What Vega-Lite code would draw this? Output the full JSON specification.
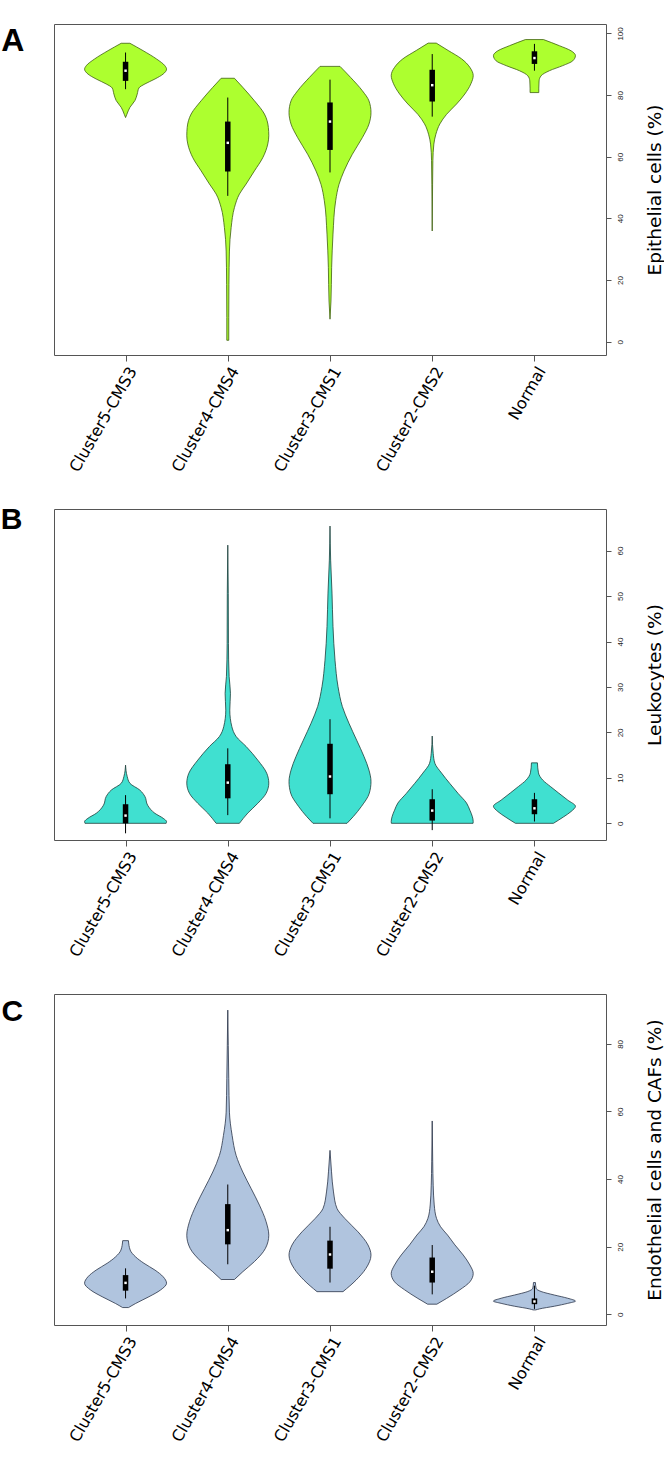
{
  "$schema": "https://vega.github.io/schema/vega-lite/v6.json",
  "padding": {"left": 0, "top": 23, "right": 0, "bottom": 4},
  "bounds": "flush",
  "spacing": 154,
  "config": {"view": {"stroke": "#555", "strokeWidth": 1}, "font": "Liberation Sans"},
  "datasets": {
    "vA": [
      {"cat":"Cluster5-CMS3","v":96.8,"d":0.106},{"cat":"Cluster5-CMS3","v":94.4,"d":0.427},{"cat":"Cluster5-CMS3","v":91.7,"d":0.756},{"cat":"Cluster5-CMS3","v":89.5,"d":0.96},{"cat":"Cluster5-CMS3","v":88.4,"d":1.0},{"cat":"Cluster5-CMS3","v":86.8,"d":0.915},{"cat":"Cluster5-CMS3","v":85.2,"d":0.716},{"cat":"Cluster5-CMS3","v":83.6,"d":0.472},{"cat":"Cluster5-CMS3","v":82.3,"d":0.326},{"cat":"Cluster5-CMS3","v":80.3,"d":0.284},{"cat":"Cluster5-CMS3","v":78.2,"d":0.228},{"cat":"Cluster5-CMS3","v":76.0,"d":0.106},{"cat":"Cluster5-CMS3","v":73.8,"d":0.033},{"cat":"Cluster5-CMS3","v":72.7,"d":0.0},
      {"cat":"Cluster4-CMS4","v":85.45,"d":0.162},{"cat":"Cluster4-CMS4","v":82.5,"d":0.366},{"cat":"Cluster4-CMS4","v":78.15,"d":0.65},{"cat":"Cluster4-CMS4","v":73.85,"d":0.894},{"cat":"Cluster4-CMS4","v":69.5,"d":0.99},{"cat":"Cluster4-CMS4","v":66.8,"d":1.0},{"cat":"Cluster4-CMS4","v":64.15,"d":0.976},{"cat":"Cluster4-CMS4","v":59.7,"d":0.854},{"cat":"Cluster4-CMS4","v":55.4,"d":0.65},{"cat":"Cluster4-CMS4","v":51.15,"d":0.448},{"cat":"Cluster4-CMS4","v":47.9,"d":0.284},{"cat":"Cluster4-CMS4","v":43.5,"d":0.162},{"cat":"Cluster4-CMS4","v":37.0,"d":0.082},{"cat":"Cluster4-CMS4","v":29.4,"d":0.04},{"cat":"Cluster4-CMS4","v":18.6,"d":0.028},{"cat":"Cluster4-CMS4","v":7.8,"d":0.024},{"cat":"Cluster4-CMS4","v":0.45,"d":0.024},
      {"cat":"Cluster3-CMS1","v":89.3,"d":0.244},{"cat":"Cluster3-CMS1","v":85.7,"d":0.504},{"cat":"Cluster3-CMS1","v":81.4,"d":0.789},{"cat":"Cluster3-CMS1","v":78.1,"d":0.951},{"cat":"Cluster3-CMS1","v":74.4,"d":1.0},{"cat":"Cluster3-CMS1","v":70.6,"d":0.951},{"cat":"Cluster3-CMS1","v":66.2,"d":0.789},{"cat":"Cluster3-CMS1","v":60.8,"d":0.545},{"cat":"Cluster3-CMS1","v":55.35,"d":0.341},{"cat":"Cluster3-CMS1","v":51.05,"d":0.22},{"cat":"Cluster3-CMS1","v":45.7,"d":0.138},{"cat":"Cluster3-CMS1","v":34.9,"d":0.073},{"cat":"Cluster3-CMS1","v":24.0,"d":0.04},{"cat":"Cluster3-CMS1","v":13.2,"d":0.024},{"cat":"Cluster3-CMS1","v":7.3,"d":0.0},
      {"cat":"Cluster2-CMS2","v":96.85,"d":0.098},{"cat":"Cluster2-CMS2","v":94.45,"d":0.39},{"cat":"Cluster2-CMS2","v":91.75,"d":0.716},{"cat":"Cluster2-CMS2","v":89.0,"d":0.918},{"cat":"Cluster2-CMS2","v":86.3,"d":1.0},{"cat":"Cluster2-CMS2","v":83.65,"d":0.943},{"cat":"Cluster2-CMS2","v":80.35,"d":0.796},{"cat":"Cluster2-CMS2","v":77.1,"d":0.594},{"cat":"Cluster2-CMS2","v":73.75,"d":0.35},{"cat":"Cluster2-CMS2","v":70.65,"d":0.187},{"cat":"Cluster2-CMS2","v":67.3,"d":0.089},{"cat":"Cluster2-CMS2","v":64.1,"d":0.04},{"cat":"Cluster2-CMS2","v":58.7,"d":0.016},{"cat":"Cluster2-CMS2","v":51.1,"d":0.009},{"cat":"Cluster2-CMS2","v":35.9,"d":0.0},
      {"cat":"Normal","v":98.0,"d":0.22},{"cat":"Normal","v":96.0,"d":0.61},{"cat":"Normal","v":94.35,"d":0.894},{"cat":"Normal","v":92.8,"d":1.0},{"cat":"Normal","v":91.1,"d":0.935},{"cat":"Normal","v":89.55,"d":0.691},{"cat":"Normal","v":87.9,"d":0.366},{"cat":"Normal","v":86.25,"d":0.162},{"cat":"Normal","v":84.6,"d":0.113},{"cat":"Normal","v":82.25,"d":0.106},{"cat":"Normal","v":80.8,"d":0.106}
    ],
    "bA": [
      {"cat":"Cluster5-CMS3","lo":81.9,"q1":84.6,"med":87.9,"q3":90.8,"hi":93.8},
      {"cat":"Cluster4-CMS4","lo":47.3,"q1":55.2,"med":64.5,"q3":71.4,"hi":79.2},
      {"cat":"Cluster3-CMS1","lo":54.9,"q1":62.2,"med":71.4,"q3":77.6,"hi":85.0},
      {"cat":"Cluster2-CMS2","lo":73.0,"q1":77.9,"med":83.2,"q3":88.2,"hi":93.3},
      {"cat":"Normal","lo":87.9,"q1":90.1,"med":92.0,"q3":94.2,"hi":96.6}
    ],
    "vB": [
      {"cat":"Cluster5-CMS3","v":12.8,"d":0.0},{"cat":"Cluster5-CMS3","v":10.3,"d":0.04},{"cat":"Cluster5-CMS3","v":8.8,"d":0.106},{"cat":"Cluster5-CMS3","v":7.3,"d":0.35},{"cat":"Cluster5-CMS3","v":5.9,"d":0.472},{"cat":"Cluster5-CMS3","v":4.0,"d":0.537},{"cat":"Cluster5-CMS3","v":2.2,"d":0.716},{"cat":"Cluster5-CMS3","v":1.1,"d":0.918},{"cat":"Cluster5-CMS3","v":0.37,"d":1.0},{"cat":"Cluster5-CMS3","v":0.0,"d":0.99},
      {"cat":"Cluster4-CMS4","v":61.2,"d":0.0},{"cat":"Cluster4-CMS4","v":50.6,"d":0.012},{"cat":"Cluster4-CMS4","v":39.6,"d":0.016},{"cat":"Cluster4-CMS4","v":32.3,"d":0.033},{"cat":"Cluster4-CMS4","v":28.6,"d":0.065},{"cat":"Cluster4-CMS4","v":24.9,"d":0.049},{"cat":"Cluster4-CMS4","v":21.3,"d":0.098},{"cat":"Cluster4-CMS4","v":19.1,"d":0.204},{"cat":"Cluster4-CMS4","v":16.9,"d":0.448},{"cat":"Cluster4-CMS4","v":13.9,"d":0.732},{"cat":"Cluster4-CMS4","v":11.0,"d":0.951},{"cat":"Cluster4-CMS4","v":8.85,"d":1.0},{"cat":"Cluster4-CMS4","v":6.6,"d":0.935},{"cat":"Cluster4-CMS4","v":4.4,"d":0.732},{"cat":"Cluster4-CMS4","v":2.25,"d":0.488},{"cat":"Cluster4-CMS4","v":0.0,"d":0.284},
      {"cat":"Cluster3-CMS1","v":65.4,"d":0.0},{"cat":"Cluster3-CMS1","v":57.9,"d":0.016},{"cat":"Cluster3-CMS1","v":50.65,"d":0.049},{"cat":"Cluster3-CMS1","v":43.3,"d":0.073},{"cat":"Cluster3-CMS1","v":35.9,"d":0.122},{"cat":"Cluster3-CMS1","v":30.1,"d":0.195},{"cat":"Cluster3-CMS1","v":25.7,"d":0.301},{"cat":"Cluster3-CMS1","v":22.0,"d":0.463},{"cat":"Cluster3-CMS1","v":18.3,"d":0.65},{"cat":"Cluster3-CMS1","v":14.7,"d":0.829},{"cat":"Cluster3-CMS1","v":11.7,"d":0.951},{"cat":"Cluster3-CMS1","v":9.2,"d":1.0},{"cat":"Cluster3-CMS1","v":6.65,"d":0.96},{"cat":"Cluster3-CMS1","v":3.7,"d":0.765},{"cat":"Cluster3-CMS1","v":1.5,"d":0.57},{"cat":"Cluster3-CMS1","v":0.0,"d":0.415},
      {"cat":"Cluster2-CMS2","v":19.2,"d":0.0},{"cat":"Cluster2-CMS2","v":15.4,"d":0.024},{"cat":"Cluster2-CMS2","v":13.2,"d":0.065},{"cat":"Cluster2-CMS2","v":11.05,"d":0.228},{"cat":"Cluster2-CMS2","v":8.75,"d":0.43},{"cat":"Cluster2-CMS2","v":6.55,"d":0.634},{"cat":"Cluster2-CMS2","v":4.45,"d":0.838},{"cat":"Cluster2-CMS2","v":2.9,"d":0.918},{"cat":"Cluster2-CMS2","v":1.55,"d":0.976},{"cat":"Cluster2-CMS2","v":0.38,"d":1.0},{"cat":"Cluster2-CMS2","v":0.0,"d":0.996},
      {"cat":"Normal","v":13.3,"d":0.073},{"cat":"Normal","v":11.1,"d":0.098},{"cat":"Normal","v":9.5,"d":0.204},{"cat":"Normal","v":8.1,"d":0.39},{"cat":"Normal","v":6.7,"d":0.585},{"cat":"Normal","v":5.1,"d":0.813},{"cat":"Normal","v":3.75,"d":1.0},{"cat":"Normal","v":2.6,"d":0.894},{"cat":"Normal","v":1.45,"d":0.716},{"cat":"Normal","v":0.0,"d":0.463}
    ],
    "bB": [
      {"cat":"Cluster5-CMS3","lo":-2.2,"q1":0.0,"med":1.7,"q3":4.2,"hi":6.2},
      {"cat":"Cluster4-CMS4","lo":1.8,"q1":5.5,"med":8.95,"q3":13.0,"hi":16.5},
      {"cat":"Cluster3-CMS1","lo":1.1,"q1":6.4,"med":10.3,"q3":17.5,"hi":22.9},
      {"cat":"Cluster2-CMS2","lo":-1.5,"q1":0.6,"med":2.8,"q3":5.3,"hi":7.5},
      {"cat":"Normal","lo":0.4,"q1":2.0,"med":3.3,"q3":5.3,"hi":6.7}
    ],
    "vC": [
      {"cat":"Cluster5-CMS3","v":21.8,"d":0.07},{"cat":"Cluster5-CMS3","v":19.0,"d":0.113},{"cat":"Cluster5-CMS3","v":17.0,"d":0.244},{"cat":"Cluster5-CMS3","v":15.1,"d":0.448},{"cat":"Cluster5-CMS3","v":13.1,"d":0.716},{"cat":"Cluster5-CMS3","v":11.1,"d":0.918},{"cat":"Cluster5-CMS3","v":9.2,"d":1.0},{"cat":"Cluster5-CMS3","v":7.2,"d":0.854},{"cat":"Cluster5-CMS3","v":5.2,"d":0.57},{"cat":"Cluster5-CMS3","v":3.2,"d":0.244},{"cat":"Cluster5-CMS3","v":2.0,"d":0.073},
      {"cat":"Cluster4-CMS4","v":90.0,"d":0.0},{"cat":"Cluster4-CMS4","v":79.5,"d":0.012},{"cat":"Cluster4-CMS4","v":69.7,"d":0.024},{"cat":"Cluster4-CMS4","v":59.8,"d":0.04},{"cat":"Cluster4-CMS4","v":52.9,"d":0.106},{"cat":"Cluster4-CMS4","v":47.0,"d":0.204},{"cat":"Cluster4-CMS4","v":42.1,"d":0.366},{"cat":"Cluster4-CMS4","v":37.2,"d":0.57},{"cat":"Cluster4-CMS4","v":32.3,"d":0.772},{"cat":"Cluster4-CMS4","v":27.4,"d":0.935},{"cat":"Cluster4-CMS4","v":23.4,"d":1.0},{"cat":"Cluster4-CMS4","v":19.5,"d":0.918},{"cat":"Cluster4-CMS4","v":15.6,"d":0.65},{"cat":"Cluster4-CMS4","v":12.6,"d":0.366},{"cat":"Cluster4-CMS4","v":10.3,"d":0.162},
      {"cat":"Cluster3-CMS1","v":48.5,"d":0.0},{"cat":"Cluster3-CMS1","v":42.15,"d":0.037},{"cat":"Cluster3-CMS1","v":36.2,"d":0.085},{"cat":"Cluster3-CMS1","v":31.3,"d":0.171},{"cat":"Cluster3-CMS1","v":28.3,"d":0.366},{"cat":"Cluster3-CMS1","v":24.4,"d":0.683},{"cat":"Cluster3-CMS1","v":20.5,"d":0.927},{"cat":"Cluster3-CMS1","v":17.5,"d":1.0},{"cat":"Cluster3-CMS1","v":13.6,"d":0.878},{"cat":"Cluster3-CMS1","v":10.1,"d":0.634},{"cat":"Cluster3-CMS1","v":6.7,"d":0.317},
      {"cat":"Cluster2-CMS2","v":57.2,"d":0.0},{"cat":"Cluster2-CMS2","v":45.1,"d":0.012},{"cat":"Cluster2-CMS2","v":38.2,"d":0.024},{"cat":"Cluster2-CMS2","v":32.35,"d":0.049},{"cat":"Cluster2-CMS2","v":28.35,"d":0.106},{"cat":"Cluster2-CMS2","v":25.9,"d":0.204},{"cat":"Cluster2-CMS2","v":23.45,"d":0.374},{"cat":"Cluster2-CMS2","v":20.55,"d":0.552},{"cat":"Cluster2-CMS2","v":17.55,"d":0.756},{"cat":"Cluster2-CMS2","v":14.6,"d":0.918},{"cat":"Cluster2-CMS2","v":12.1,"d":1.0},{"cat":"Cluster2-CMS2","v":9.6,"d":0.918},{"cat":"Cluster2-CMS2","v":7.25,"d":0.674},{"cat":"Cluster2-CMS2","v":4.7,"d":0.35},{"cat":"Cluster2-CMS2","v":3.0,"d":0.113},
      {"cat":"Normal","v":9.4,"d":0.024},{"cat":"Normal","v":7.7,"d":0.04},{"cat":"Normal","v":6.75,"d":0.162},{"cat":"Normal","v":5.7,"d":0.488},{"cat":"Normal","v":4.75,"d":0.813},{"cat":"Normal","v":3.9,"d":1.0},{"cat":"Normal","v":3.25,"d":0.813},{"cat":"Normal","v":2.4,"d":0.488},{"cat":"Normal","v":1.6,"d":0.122},{"cat":"Normal","v":1.3,"d":0.03}
    ],
    "bC": [
      {"cat":"Cluster5-CMS3","lo":4.7,"q1":7.0,"med":9.3,"q3":11.6,"hi":13.6},
      {"cat":"Cluster4-CMS4","lo":14.8,"q1":20.7,"med":24.9,"q3":32.6,"hi":38.4},
      {"cat":"Cluster3-CMS1","lo":9.4,"q1":13.5,"med":17.7,"q3":21.8,"hi":25.9},
      {"cat":"Cluster2-CMS2","lo":5.9,"q1":9.4,"med":12.6,"q3":16.8,"hi":20.5},
      {"cat":"Normal","lo":1.6,"q1":3.0,"med":3.8,"q3":4.7,"hi":8.5}
    ]
  },
  "vconcat": [
    {
      "width": 552, "height": 331,
      "title": {"text": "A", "orient": "left", "anchor": "end", "angle": 0, "align": "right", "baseline": "top", "offset": 6.5, "dy": 2.3, "frame": "group", "font": "Liberation Sans", "fontSize": 32, "fontWeight": "bold", "color": "black"},
      "resolve": {"scale": {"x": "independent"}},
      "layer": [
        {
          "data": {"name": "vA"},
          "resolve": {"scale": {"x": "independent"}},
          "encoding": {
            "y": {"field": "v", "type": "quantitative", "scale": {"domain": [-4.32, 103.05], "nice": false, "zero": false},
                  "axis": {"orient": "right", "values": [0,20,40,60,80,100], "title": "Epithelial cells (%)", "titleFont": "DejaVu Sans", "titleFontSize": 18.5, "titleFontWeight": "normal", "titleColor": "black", "titleAngle": 270, "titleBaseline": "top", "titleAlign": "center", "titlePadding": 21, "labelAngle": 270, "labelAlign": "center", "labelBaseline": "top", "labelFont": "Liberation Sans", "labelFontSize": 8, "labelColor": "#222", "labelPadding": 5, "labelOverlap": false, "labelFlush": false, "tickSize": 5, "tickColor": "#555", "domain": false, "grid": false}}
          },
          "layer": [
            {"transform": [{"filter": {"field": "cat", "equal": "Cluster5-CMS3"}}],
             "mark": {"type": "area", "orient": "horizontal", "interpolate": "monotone", "fill": "#ADFF2F", "stroke": "#3f5f10", "strokeWidth": 0.8},
             "encoding": {"x": {"field": "d", "type": "quantitative", "stack": "center", "impute": null, "scale": {"domain": [-0.3727, 6.359], "nice": false, "zero": false}, "axis": null}}},
            {"transform": [{"filter": {"field": "cat", "equal": "Cluster4-CMS4"}}],
             "mark": {"type": "area", "orient": "horizontal", "interpolate": "monotone", "fill": "#ADFF2F", "stroke": "#3f5f10", "strokeWidth": 0.8},
             "encoding": {"x": {"field": "d", "type": "quantitative", "stack": "center", "impute": null, "scale": {"domain": [-1.6193, 5.1124], "nice": false, "zero": false}, "axis": null}}},
            {"transform": [{"filter": {"field": "cat", "equal": "Cluster3-CMS1"}}],
             "mark": {"type": "area", "orient": "horizontal", "interpolate": "monotone", "fill": "#ADFF2F", "stroke": "#3f5f10", "strokeWidth": 0.8},
             "encoding": {"x": {"field": "d", "type": "quantitative", "stack": "center", "impute": null, "scale": {"domain": [-2.8659, 3.8659], "nice": false, "zero": false}, "axis": null}}},
            {"transform": [{"filter": {"field": "cat", "equal": "Cluster2-CMS2"}}],
             "mark": {"type": "area", "orient": "horizontal", "interpolate": "monotone", "fill": "#ADFF2F", "stroke": "#3f5f10", "strokeWidth": 0.8},
             "encoding": {"x": {"field": "d", "type": "quantitative", "stack": "center", "impute": null, "scale": {"domain": [-4.1124, 2.6193], "nice": false, "zero": false}, "axis": null}}},
            {"transform": [{"filter": {"field": "cat", "equal": "Normal"}}],
             "mark": {"type": "area", "orient": "horizontal", "interpolate": "monotone", "fill": "#ADFF2F", "stroke": "#3f5f10", "strokeWidth": 0.8},
             "encoding": {"x": {"field": "d", "type": "quantitative", "stack": "center", "impute": null, "scale": {"domain": [-5.359, 1.3727], "nice": false, "zero": false}, "axis": null}}}
          ]
        },
        {
          "data": {"name": "bA"},
          "encoding": {
            "x": {"field": "cat", "type": "nominal", "sort": ["Cluster5-CMS3","Cluster4-CMS4","Cluster3-CMS1","Cluster2-CMS2","Normal"], "scale": {"type": "point", "padding": 0.7},
                  "axis": {"orient": "bottom", "title": null, "labelAngle": -60, "labelAlign": "right", "labelBaseline": "top", "labelFont": "DejaVu Sans", "labelFontSize": 16, "labelColor": "black", "labelPadding": 3, "labelOffset": 0, "tickSize": 6, "tickColor": "#555", "domain": false, "grid": false, "labelOverlap": false}}
          },
          "layer": [
            {"mark": {"type": "rule", "color": "black", "strokeWidth": 1},
             "encoding": {"y": {"field": "lo", "type": "quantitative", "scale": {"domain": [-4.32, 103.05], "nice": false, "zero": false}, "axis": {"orient": "right", "values": [0,20,40,60,80,100], "title": "Epithelial cells (%)", "titleFont": "DejaVu Sans", "titleFontSize": 18.5, "titleFontWeight": "normal", "titleColor": "black", "titleAngle": 270, "titleBaseline": "top", "titleAlign": "center", "titlePadding": 21, "labelAngle": 270, "labelAlign": "center", "labelBaseline": "top", "labelFont": "Liberation Sans", "labelFontSize": 8, "labelColor": "#222", "labelPadding": 5, "labelOverlap": false, "labelFlush": false, "tickSize": 5, "tickColor": "#555", "domain": false, "grid": false}}, "y2": {"field": "hi"}}},
            {"mark": {"type": "rule", "color": "black", "strokeWidth": 5.5, "strokeCap": "butt"},
             "encoding": {"y": {"field": "q1", "type": "quantitative", "scale": {"domain": [-4.32, 103.05], "nice": false, "zero": false}}, "y2": {"field": "q3"}}},
            {"mark": {"type": "point", "shape": "square", "filled": true, "color": "white", "opacity": 1, "size": 6},
             "encoding": {"y": {"field": "med", "type": "quantitative", "scale": {"domain": [-4.32, 103.05], "nice": false, "zero": false}}}}
          ]
        }
      ]
    },
    {
      "width": 552, "height": 331,
      "title": {"text": "B", "orient": "left", "anchor": "end", "angle": 0, "align": "right", "baseline": "top", "offset": 9.9, "dy": -4, "frame": "group", "font": "Liberation Sans", "fontSize": 30, "fontWeight": "bold", "color": "black"},
      "resolve": {"scale": {"x": "independent"}},
      "layer": [
        {
          "data": {"name": "vB"},
          "resolve": {"scale": {"x": "independent"}},
          "encoding": {
            "y": {"field": "v", "type": "quantitative", "scale": {"domain": [-3.67, 69.15], "nice": false, "zero": false},
                  "axis": {"orient": "right", "values": [0,10,20,30,40,50,60], "title": "Leukocytes (%)", "titleFont": "DejaVu Sans", "titleFontSize": 18.5, "titleFontWeight": "normal", "titleColor": "black", "titleAngle": 270, "titleBaseline": "top", "titleAlign": "center", "titlePadding": 21, "labelAngle": 270, "labelAlign": "center", "labelBaseline": "top", "labelFont": "Liberation Sans", "labelFontSize": 8, "labelColor": "#222", "labelPadding": 5, "labelOverlap": false, "labelFlush": false, "tickSize": 5, "tickColor": "#555", "domain": false, "grid": false}}
          },
          "layer": [
            {"transform": [{"filter": {"field": "cat", "equal": "Cluster5-CMS3"}}],
             "mark": {"type": "area", "orient": "horizontal", "interpolate": "monotone", "fill": "#40E0D0", "stroke": "#1d3d3a", "strokeWidth": 0.8},
             "encoding": {"x": {"field": "d", "type": "quantitative", "stack": "center", "impute": null, "scale": {"domain": [-0.3727, 6.359], "nice": false, "zero": false}, "axis": null}}},
            {"transform": [{"filter": {"field": "cat", "equal": "Cluster4-CMS4"}}],
             "mark": {"type": "area", "orient": "horizontal", "interpolate": "monotone", "fill": "#40E0D0", "stroke": "#1d3d3a", "strokeWidth": 0.8},
             "encoding": {"x": {"field": "d", "type": "quantitative", "stack": "center", "impute": null, "scale": {"domain": [-1.6193, 5.1124], "nice": false, "zero": false}, "axis": null}}},
            {"transform": [{"filter": {"field": "cat", "equal": "Cluster3-CMS1"}}],
             "mark": {"type": "area", "orient": "horizontal", "interpolate": "monotone", "fill": "#40E0D0", "stroke": "#1d3d3a", "strokeWidth": 0.8},
             "encoding": {"x": {"field": "d", "type": "quantitative", "stack": "center", "impute": null, "scale": {"domain": [-2.8659, 3.8659], "nice": false, "zero": false}, "axis": null}}},
            {"transform": [{"filter": {"field": "cat", "equal": "Cluster2-CMS2"}}],
             "mark": {"type": "area", "orient": "horizontal", "interpolate": "monotone", "fill": "#40E0D0", "stroke": "#1d3d3a", "strokeWidth": 0.8},
             "encoding": {"x": {"field": "d", "type": "quantitative", "stack": "center", "impute": null, "scale": {"domain": [-4.1124, 2.6193], "nice": false, "zero": false}, "axis": null}}},
            {"transform": [{"filter": {"field": "cat", "equal": "Normal"}}],
             "mark": {"type": "area", "orient": "horizontal", "interpolate": "monotone", "fill": "#40E0D0", "stroke": "#1d3d3a", "strokeWidth": 0.8},
             "encoding": {"x": {"field": "d", "type": "quantitative", "stack": "center", "impute": null, "scale": {"domain": [-5.359, 1.3727], "nice": false, "zero": false}, "axis": null}}}
          ]
        },
        {
          "data": {"name": "bB"},
          "encoding": {
            "x": {"field": "cat", "type": "nominal", "sort": ["Cluster5-CMS3","Cluster4-CMS4","Cluster3-CMS1","Cluster2-CMS2","Normal"], "scale": {"type": "point", "padding": 0.7},
                  "axis": {"orient": "bottom", "title": null, "labelAngle": -60, "labelAlign": "right", "labelBaseline": "top", "labelFont": "DejaVu Sans", "labelFontSize": 16, "labelColor": "black", "labelPadding": 3, "labelOffset": 0, "tickSize": 6, "tickColor": "#555", "domain": false, "grid": false, "labelOverlap": false}}
          },
          "layer": [
            {"mark": {"type": "rule", "color": "black", "strokeWidth": 1},
             "encoding": {"y": {"field": "lo", "type": "quantitative", "scale": {"domain": [-3.67, 69.15], "nice": false, "zero": false}, "axis": {"orient": "right", "values": [0,10,20,30,40,50,60], "title": "Leukocytes (%)", "titleFont": "DejaVu Sans", "titleFontSize": 18.5, "titleFontWeight": "normal", "titleColor": "black", "titleAngle": 270, "titleBaseline": "top", "titleAlign": "center", "titlePadding": 21, "labelAngle": 270, "labelAlign": "center", "labelBaseline": "top", "labelFont": "Liberation Sans", "labelFontSize": 8, "labelColor": "#222", "labelPadding": 5, "labelOverlap": false, "labelFlush": false, "tickSize": 5, "tickColor": "#555", "domain": false, "grid": false}}, "y2": {"field": "hi"}}},
            {"mark": {"type": "rule", "color": "black", "strokeWidth": 5.5, "strokeCap": "butt"},
             "encoding": {"y": {"field": "q1", "type": "quantitative", "scale": {"domain": [-3.67, 69.15], "nice": false, "zero": false}}, "y2": {"field": "q3"}}},
            {"mark": {"type": "point", "shape": "square", "filled": true, "color": "white", "opacity": 1, "size": 6},
             "encoding": {"y": {"field": "med", "type": "quantitative", "scale": {"domain": [-3.67, 69.15], "nice": false, "zero": false}}}}
          ]
        }
      ]
    },
    {
      "width": 552, "height": 331,
      "title": {"text": "C", "orient": "left", "anchor": "end", "angle": 0, "align": "right", "baseline": "top", "offset": 9.2, "dy": 2.7, "frame": "group", "font": "Liberation Sans", "fontSize": 30, "fontWeight": "bold", "color": "black"},
      "resolve": {"scale": {"x": "independent"}},
      "layer": [
        {
          "data": {"name": "vC"},
          "resolve": {"scale": {"x": "independent"}},
          "encoding": {
            "y": {"field": "v", "type": "quantitative", "scale": {"domain": [-3.16, 94.76], "nice": false, "zero": false},
                  "axis": {"orient": "right", "values": [0,20,40,60,80], "title": "Endothelial cells and CAFs (%)", "titleFont": "DejaVu Sans", "titleFontSize": 18.5, "titleFontWeight": "normal", "titleColor": "black", "titleAngle": 270, "titleBaseline": "top", "titleAlign": "center", "titlePadding": 21, "labelAngle": 270, "labelAlign": "center", "labelBaseline": "top", "labelFont": "Liberation Sans", "labelFontSize": 8, "labelColor": "#222", "labelPadding": 5, "labelOverlap": false, "labelFlush": false, "tickSize": 5, "tickColor": "#555", "domain": false, "grid": false}}
          },
          "layer": [
            {"transform": [{"filter": {"field": "cat", "equal": "Cluster5-CMS3"}}],
             "mark": {"type": "area", "orient": "horizontal", "interpolate": "monotone", "fill": "#B0C4DE", "stroke": "#2a3448", "strokeWidth": 0.8},
             "encoding": {"x": {"field": "d", "type": "quantitative", "stack": "center", "impute": null, "scale": {"domain": [-0.3727, 6.359], "nice": false, "zero": false}, "axis": null}}},
            {"transform": [{"filter": {"field": "cat", "equal": "Cluster4-CMS4"}}],
             "mark": {"type": "area", "orient": "horizontal", "interpolate": "monotone", "fill": "#B0C4DE", "stroke": "#2a3448", "strokeWidth": 0.8},
             "encoding": {"x": {"field": "d", "type": "quantitative", "stack": "center", "impute": null, "scale": {"domain": [-1.6193, 5.1124], "nice": false, "zero": false}, "axis": null}}},
            {"transform": [{"filter": {"field": "cat", "equal": "Cluster3-CMS1"}}],
             "mark": {"type": "area", "orient": "horizontal", "interpolate": "monotone", "fill": "#B0C4DE", "stroke": "#2a3448", "strokeWidth": 0.8},
             "encoding": {"x": {"field": "d", "type": "quantitative", "stack": "center", "impute": null, "scale": {"domain": [-2.8659, 3.8659], "nice": false, "zero": false}, "axis": null}}},
            {"transform": [{"filter": {"field": "cat", "equal": "Cluster2-CMS2"}}],
             "mark": {"type": "area", "orient": "horizontal", "interpolate": "monotone", "fill": "#B0C4DE", "stroke": "#2a3448", "strokeWidth": 0.8},
             "encoding": {"x": {"field": "d", "type": "quantitative", "stack": "center", "impute": null, "scale": {"domain": [-4.1124, 2.6193], "nice": false, "zero": false}, "axis": null}}},
            {"transform": [{"filter": {"field": "cat", "equal": "Normal"}}],
             "mark": {"type": "area", "orient": "horizontal", "interpolate": "monotone", "fill": "#B0C4DE", "stroke": "#2a3448", "strokeWidth": 0.8},
             "encoding": {"x": {"field": "d", "type": "quantitative", "stack": "center", "impute": null, "scale": {"domain": [-5.359, 1.3727], "nice": false, "zero": false}, "axis": null}}}
          ]
        },
        {
          "data": {"name": "bC"},
          "encoding": {
            "x": {"field": "cat", "type": "nominal", "sort": ["Cluster5-CMS3","Cluster4-CMS4","Cluster3-CMS1","Cluster2-CMS2","Normal"], "scale": {"type": "point", "padding": 0.7},
                  "axis": {"orient": "bottom", "title": null, "labelAngle": -60, "labelAlign": "right", "labelBaseline": "top", "labelFont": "DejaVu Sans", "labelFontSize": 16, "labelColor": "black", "labelPadding": 3, "labelOffset": 0, "tickSize": 6, "tickColor": "#555", "domain": false, "grid": false, "labelOverlap": false}}
          },
          "layer": [
            {"mark": {"type": "rule", "color": "black", "strokeWidth": 1},
             "encoding": {"y": {"field": "lo", "type": "quantitative", "scale": {"domain": [-3.16, 94.76], "nice": false, "zero": false}, "axis": {"orient": "right", "values": [0,20,40,60,80], "title": "Endothelial cells and CAFs (%)", "titleFont": "DejaVu Sans", "titleFontSize": 18.5, "titleFontWeight": "normal", "titleColor": "black", "titleAngle": 270, "titleBaseline": "top", "titleAlign": "center", "titlePadding": 21, "labelAngle": 270, "labelAlign": "center", "labelBaseline": "top", "labelFont": "Liberation Sans", "labelFontSize": 8, "labelColor": "#222", "labelPadding": 5, "labelOverlap": false, "labelFlush": false, "tickSize": 5, "tickColor": "#555", "domain": false, "grid": false}}, "y2": {"field": "hi"}}},
            {"mark": {"type": "rule", "color": "black", "strokeWidth": 5.5, "strokeCap": "butt"},
             "encoding": {"y": {"field": "q1", "type": "quantitative", "scale": {"domain": [-3.16, 94.76], "nice": false, "zero": false}}, "y2": {"field": "q3"}}},
            {"mark": {"type": "point", "shape": "square", "filled": true, "color": "white", "opacity": 1, "size": 6},
             "encoding": {"y": {"field": "med", "type": "quantitative", "scale": {"domain": [-3.16, 94.76], "nice": false, "zero": false}}}}
          ]
        }
      ]
    }
  ]
}
